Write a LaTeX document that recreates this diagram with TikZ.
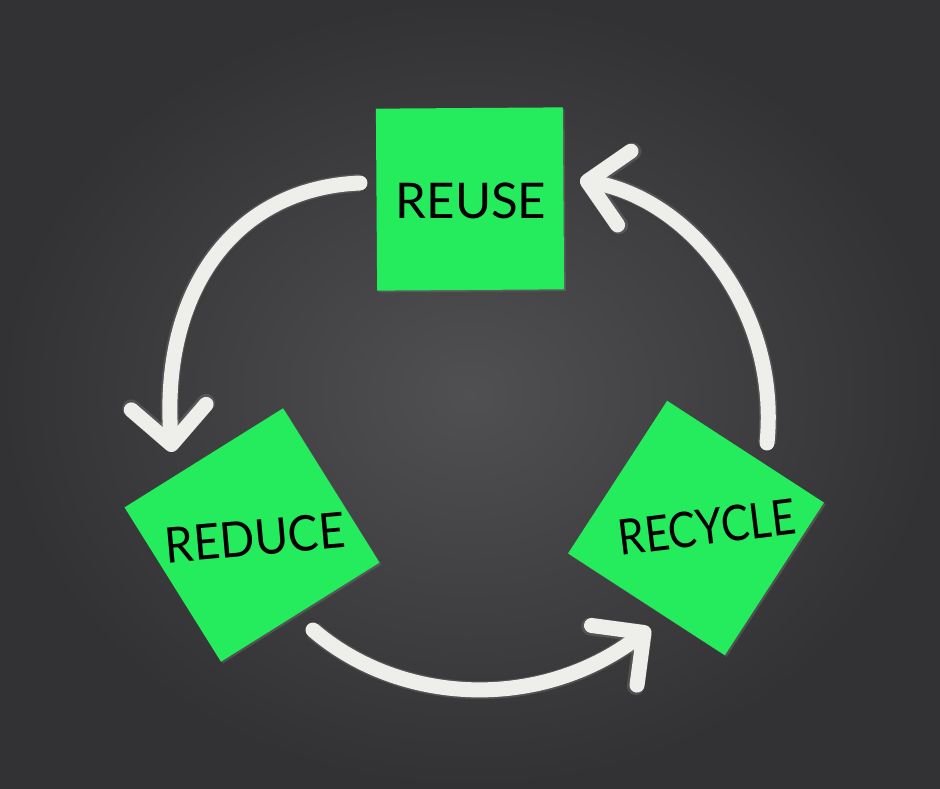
\documentclass[tikz,border=0pt]{standalone}
\usepackage{fontspec}
\setmainfont{Lato}
\usetikzlibrary{arrows.meta,shadows}
\definecolor{board_mid}{RGB}{80,80,82}
\definecolor{board_edge}{RGB}{50,50,52}
\definecolor{note_green}{RGB}{36,236,92}
\definecolor{chalk_white}{RGB}{238,238,234}
\tikzstyle{note}=[rectangle,fill=note_green,draw=none,inner sep=0pt,
  minimum width=3.74cm,minimum height=3.64cm,
  drop shadow={shadow xshift=1pt,shadow yshift=-1pt,opacity=0.35}]
\tikzstyle{lbl}=[font=\fontsize{28}{30}\selectfont,text=black,inner sep=0pt]
\tikzstyle{chalk}=[draw=chalk_white,line width=0.3cm,line cap=round,line join=round,
  -{Straight Barb[length=0.75cm,width=1.5cm,round]},
  preaction={draw=white,line width=0.36cm,opacity=0.12}]

\begin{document}
\begin{tikzpicture}[x=0.02cm,y=0.02cm]
    % chalkboard
    \shade[inner color=board_mid,outer color=board_edge] (0,0) rectangle (940,788);
    \useasboundingbox (0,0) rectangle (940,788);
    % sticky notes
    \node [style=note,rotate=0.4] (reuse) at (470,589) {};
    \node [style=note,rotate=32] (reduce) at (252,253) {};
    \node [style=note,rotate=-33] (recycle) at (696,260) {};
    \node [style=lbl] (reuse_lbl) at (471,587) {REUSE};
    \node [style=lbl,rotate=5,xscale=0.93] (reduce_lbl) at (255,250) {REDUCE};
    \node [style=lbl,rotate=7,xscale=0.86] (recycle_lbl) at (707,261) {RECYCLE};
    % arrow ends
    \coordinate (reuse_out) at (360,605);
    \coordinate (reduce_in) at (172,336);
    \coordinate (reduce_out) at (313,158);
    \coordinate (recycle_in) at (650,160);
    \coordinate (recycle_out) at (767,345);
    \coordinate (reuse_in) at (580,608);
    \draw [style=chalk] (reuse_out) .. controls (235,600) and (160,498) .. (reduce_in);
    \draw [style=chalk] (reduce_out) .. controls (400,83) and (540,76) .. (recycle_in);
    \draw [style=chalk] (recycle_out) .. controls (780,478) and (690,588) .. (reuse_in);
  \end{tikzpicture}
\end{document}
